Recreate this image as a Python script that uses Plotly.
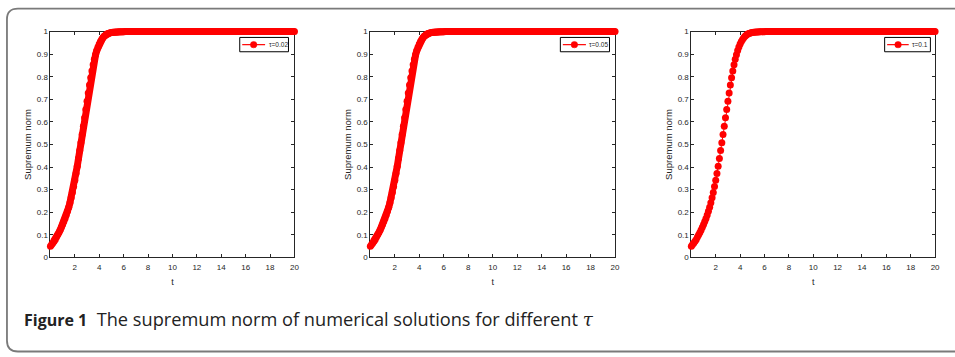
import plotly.graph_objects as go

# ---------------- data ----------------
taus = [0.02, 0.05, 0.1]
legend_labels = ["\u03c4=0.02", "\u03c4=0.05", "\u03c4=0.1"]
x_ticks = [2, 4, 6, 8, 10, 12, 14, 16, 18, 20]
y_ticks = [0, 0.1, 0.2, 0.3, 0.4, 0.5, 0.6, 0.7, 0.8, 0.9, 1]
y_tick_text = ["0", "0.1", "0.2", "0.3", "0.4", "0.5", "0.6", "0.7", "0.8", "0.9", "1"]

# time grid (step 0.1) from 0 to 20
t = [round(0.1 * i, 1) for i in range(201)]
# supremum norm, t = 0.0 ... 6.0
sup_rise = [0.050, 0.057, 0.064, 0.072, 0.080, 0.090, 0.100, 0.111, 0.122, 0.134,
            0.146, 0.159, 0.173, 0.188, 0.204, 0.222, 0.242, 0.264, 0.288, 0.314,
            0.342, 0.372, 0.404, 0.438, 0.473, 0.508, 0.544, 0.581, 0.618, 0.655,
            0.692, 0.728, 0.763, 0.796, 0.826, 0.853, 0.877, 0.898, 0.916, 0.932,
            0.945, 0.956, 0.965, 0.973, 0.979, 0.984, 0.988, 0.991, 0.993, 0.995,
            0.996, 0.997, 0.997, 0.998, 0.998, 0.998, 0.999, 0.999, 0.999, 0.999, 0.999]
# t = 6.1 ... 20.0 : the curve sits on 1
sup_plateau = [1.0] * 140
sup_norm = sup_rise + sup_plateau

# ---------------- layout helpers ----------------
W, H = 955, 357
def px(x):
    return x / W
def py(y):
    return 1 - y / H

RED = "#ff0000"
AX = "#262626"
x_domains = [(50.7, 296.0), (372.3, 618.3), (695.0, 940.0)]
y_dom = [py(260.0), py(28.3)]

fig = go.Figure()

for i, tau in enumerate(taus):
    xa = "x" if i == 0 else f"x{i+1}"
    ya = "y" if i == 0 else f"y{i+1}"
    dense = tau < 0.1
    if dense:
        # dense markers merge into a solid band
        fig.add_trace(go.Scatter(x=t, y=sup_norm, xaxis=xa, yaxis=ya, mode="lines",
                                 line=dict(color=RED, width=7), cliponaxis=False,
                                 showlegend=False, hoverinfo="skip"))
    fig.add_trace(go.Scatter(x=t, y=sup_norm, xaxis=xa, yaxis=ya, mode="lines+markers",
                             name=legend_labels[i],
                             line=dict(color=RED, width=1),
                             marker=dict(color=RED, size=7, symbol="circle",
                                         line=dict(width=0)),
                             cliponaxis=False, showlegend=False))

axis_common = dict(showline=True, linecolor=AX, linewidth=1, mirror="ticks",
                   ticks="inside", ticklen=3, tickwidth=1, tickcolor=AX,
                   showgrid=False, zeroline=False, layer="below traces",
                   tickfont=dict(family="Liberation Sans, Arial", size=8, color=AX))

layout = dict(width=W, height=H, margin=dict(l=0, r=0, t=0, b=0, pad=0),
              paper_bgcolor="white", plot_bgcolor="white", showlegend=False)

for i, (x0, x1) in enumerate(x_domains):
    sfx = "" if i == 0 else str(i + 1)
    layout["xaxis" + sfx] = dict(axis_common, domain=[px(x0), px(x1)], range=[0, 20],
                                 tickmode="array", tickvals=x_ticks,
                                 anchor="y" + sfx, ticklabelstandoff=2,
                                 title=dict(text="t", standoff=7,
                                            font=dict(family="Liberation Sans, Arial", size=9, color=AX)))
    layout["yaxis" + sfx] = dict(axis_common, domain=y_dom, range=[0, 1],
                                 tickmode="array", tickvals=y_ticks, ticktext=y_tick_text,
                                 anchor="x" + sfx,
                                 title=dict(text="Supremum norm", standoff=3,
                                            font=dict(family="Liberation Sans, Arial", size=9.5, color=AX)))

fig.update_layout(**layout)

shapes = []
annotations = []

# legends (drawn as boxes inside each axes)
leg = [  # box_left, box_right, line_x0, line_x1, marker_x, text_x
    (241.0, 290.0, 243.5, 266.5, 255.0, 268.0),
    (563.3, 612.7, 565.8, 589.0, 577.4, 590.5),
    (889.3, 935.3, 891.8, 913.5, 902.8, 914.5),
]
top, bot, ymid = 34.3, 49.0, 41.7
for i, (bl, br, l0, l1, mx, tx) in enumerate(leg):
    shapes.append(dict(type="rect", xref="paper", yref="paper",
                       x0=px(bl), x1=px(br), y0=py(bot), y1=py(top),
                       line=dict(color="#000000", width=1), fillcolor="white", layer="above"))
    shapes.append(dict(type="line", xref="paper", yref="paper",
                       x0=px(l0), x1=px(l1), y0=py(ymid), y1=py(ymid),
                       line=dict(color=RED, width=1.2), layer="above"))
    r = 3.3
    shapes.append(dict(type="circle", xref="paper", yref="paper",
                       x0=px(mx - r), x1=px(mx + r), y0=py(ymid + r), y1=py(ymid - r),
                       line=dict(color=RED, width=0.5), fillcolor=RED, layer="above"))
    annotations.append(dict(xref="paper", yref="paper", x=px(tx), y=py(ymid),
                            xanchor="left", yanchor="middle", showarrow=False,
                            text=legend_labels[i],
                            font=dict(family="Liberation Sans, Arial", size=6.5, color=AX)))

# rounded frame around the whole figure
def P(x, y):
    return f"{px(x):.5f},{py(y):.5f}"
L, T, R, B, rad = 7.0, 4.7, 975.0, 356.5, 11.0
path = (f"M {P(L, T + rad)} Q {P(L, T)} {P(L + rad, T)} L {P(R, T)} L {P(R, B)} "
        f"L {P(L + rad, B)} Q {P(L, B)} {P(L, B - rad)} Z")
shapes.append(dict(type="path", xref="paper", yref="paper", path=path,
                   line=dict(color="#7a7a7a", width=1.8), layer="below"))

# caption
annotations.append(dict(xref="paper", yref="paper", x=px(22), y=py(323),
                        xanchor="left", yanchor="middle", showarrow=False,
                        text="<span style=\"font-size:16px\"><b>Figure 1</b></span>"
                             "\u00a0\u00a0The supremum norm of numerical solutions for different "
                             "<span style=\"font-family:'DejaVu Serif'\"><i>\u03c4</i></span>",
                        font=dict(family="Open Sans", size=18.2, color="#222222")))

fig.update_layout(shapes=shapes, annotations=annotations)

page_fix = ("var s=document.createElement('style');"
            "s.textContent='html,body{margin:0;padding:0;overflow:hidden;width:955px;height:357px;}';"
            "document.head.appendChild(s);")
fig.write_html("out.html", config={"displayModeBar": False}, post_script=page_fix)
